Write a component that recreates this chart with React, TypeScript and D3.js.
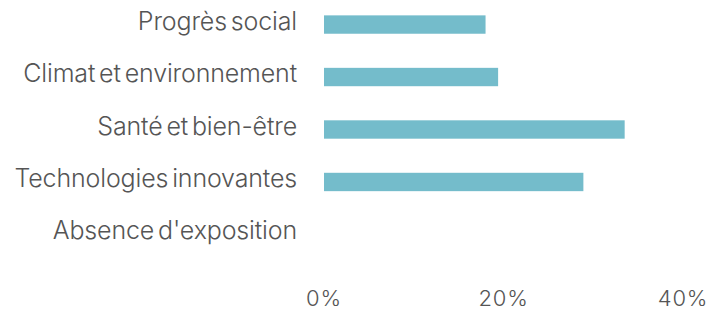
import React from "react";
import * as d3 from "d3";

const categories = [
  "Progrès social",
  "Climat et environnement",
  "Santé et bien-être",
  "Technologies innovantes",
  "Absence d'exposition",
];
const values = [18.0, 19.4, 33.5, 28.9, 0];
const tickValues = [0, 20, 40];

const W = 717;
const H = 310;

export default function App() {
  const x = d3.scaleLinear().domain([0, 40]).range([324, 683]);
  const y = d3.scaleBand().domain(categories).range([-3, 262]).paddingInner(0.65).paddingOuter(0.35);
  const font = "Inter, 'Open Sans', sans-serif";
  return (
    <svg width={W} height={H} style={{ position: "absolute", left: 0, top: 0 }}>
      <rect width={W} height={H} fill="#fff" />
      {categories.map((c, i) => (
        <g key={c}>
          <text
            x={297}
            y={y(c)! + y.bandwidth() / 2 + 5}
            textAnchor="end"
            fontFamily={font}
            fontWeight={300}
            fontSize={25}
            letterSpacing={-0.15}
            wordSpacing={-3}
            fill="#555"
          >
            {c}
          </text>
          {values[i] > 0 && (
            <rect
              x={x(0)}
              y={y(c)!}
              width={x(values[i]) - x(0)}
              height={y.bandwidth()}
              fill="#74bccb"
            />
          )}
        </g>
      ))}
      {tickValues.map((t) => (
        <text
          key={t}
          x={x(t)}
          y={306}
          textAnchor="middle"
          fontFamily={font}
          fontWeight={300}
          fontSize={22}
          letterSpacing={0.8}
          fill="#555"
        >
          {t}%
        </text>
      ))}
    </svg>
  );
}
